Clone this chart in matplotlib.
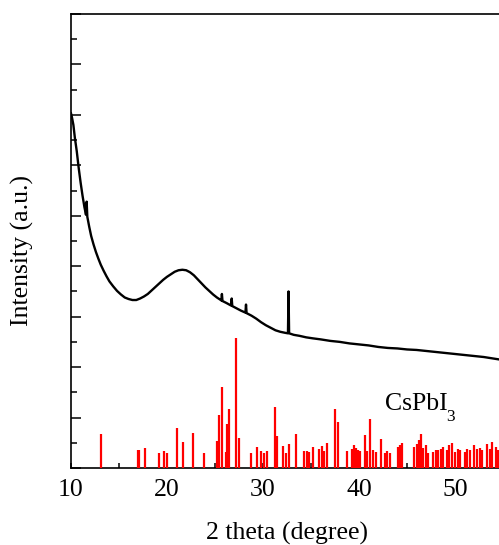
import matplotlib
matplotlib.use("Agg")
import matplotlib.pyplot as plt
from matplotlib.ticker import MultipleLocator, NullFormatter

plt.rcParams['font.family'] = ['Liberation Serif', 'DejaVu Serif']

# measured XRD curve (2theta, intensity a.u.)
two_theta = [10.00, 10.10, 10.25, 10.40, 10.60, 10.80, 11.00, 11.20, 11.40, 11.56,
             11.63, 11.70, 11.90, 12.10, 12.35, 12.60, 12.85, 13.10, 13.40, 13.70,
             14.00, 14.40, 14.80, 15.20, 15.60, 16.00, 16.40, 16.80, 17.20, 17.60,
             18.00, 18.40, 18.80, 19.20, 19.60, 20.00, 20.40, 20.80, 21.20, 21.60,
             22.00, 22.40, 22.80, 23.20, 23.60, 24.00, 24.40, 24.80, 25.20, 25.60,
             25.66, 25.72, 25.78, 26.20, 26.68, 26.74, 26.80, 27.20, 27.70, 28.17,
             28.23, 28.29, 28.80, 29.30, 29.80, 30.30, 30.80, 31.30, 31.80, 32.30,
             32.60, 32.66, 32.72, 33.20, 33.80, 34.50, 35.20, 36.00, 37.00, 38.00,
             39.00, 40.00, 41.00, 42.00, 43.00, 44.00, 45.00, 46.00, 47.00, 48.00,
             49.00, 50.00, 51.00, 52.00, 53.00, 54.00, 55.00]
intensity = [7.03, 6.95, 6.80, 6.55, 6.28, 5.95, 5.66, 5.40, 5.17, 5.02,
             5.28, 4.98, 4.78, 4.60, 4.43, 4.28, 4.15, 4.03, 3.91, 3.80,
             3.70, 3.60, 3.51, 3.44, 3.38, 3.35, 3.33, 3.33, 3.36, 3.40,
             3.45, 3.52, 3.59, 3.66, 3.73, 3.79, 3.84, 3.89, 3.92, 3.93,
             3.92, 3.88, 3.82, 3.74, 3.66, 3.58, 3.51, 3.44, 3.38, 3.33,
             3.32, 3.45, 3.31, 3.27, 3.22, 3.36, 3.21, 3.17, 3.12, 3.08,
             3.24, 3.07, 3.02, 2.96, 2.89, 2.83, 2.78, 2.73, 2.70, 2.68,
             2.67, 3.50, 2.67, 2.64, 2.62, 2.59, 2.57, 2.55, 2.52, 2.50,
             2.47, 2.45, 2.43, 2.40, 2.38, 2.37, 2.35, 2.34, 2.32, 2.30,
             2.28, 2.26, 2.24, 2.22, 2.20, 2.17, 2.14]

# reference pattern CsPbI3 (positions, relative heights)
ref_pos = [13.09, 16.95, 17.10, 17.70, 19.17, 19.72, 19.97, 21.00, 21.70, 22.67,
           23.90, 25.17, 25.40, 25.70, 26.10, 26.30, 26.50, 27.15, 27.50, 28.70,
           29.40, 29.80, 30.14, 30.40, 31.30, 31.50, 32.10, 32.36, 32.70, 33.40,
           34.30, 34.55, 34.80, 35.24, 35.83, 36.10, 36.40, 36.63, 37.50, 37.78,
           38.80, 39.30, 39.48, 39.70, 39.93, 40.10, 40.60, 40.83, 41.10, 41.50,
           41.74, 42.26, 42.70, 42.95, 43.23, 44.10, 44.27, 44.50, 45.76, 46.00,
           46.28, 46.46, 46.70, 46.94, 47.22, 47.74, 48.00, 48.26, 48.50, 48.80,
           49.13, 49.40, 49.66, 50.00, 50.28, 50.50, 51.04, 51.28, 51.56, 52.00,
           52.32, 52.60, 52.84, 53.30, 53.65, 53.90, 54.27, 54.50]
ref_height = [0.67, 0.36, 0.36, 0.40, 0.30, 0.34, 0.30, 0.80, 0.51, 0.69,
              0.29, 0.53, 1.05, 1.61, 0.31, 0.87, 1.17, 2.57, 0.60, 0.29,
              0.41, 0.34, 0.29, 0.34, 1.21, 0.63, 0.44, 0.30, 0.48, 0.67,
              0.34, 0.34, 0.32, 0.41, 0.38, 0.43, 0.33, 0.50, 1.16, 0.92,
              0.34, 0.38, 0.46, 0.40, 0.35, 0.33, 0.65, 0.33, 0.97, 0.36,
              0.32, 0.57, 0.30, 0.34, 0.29, 0.41, 0.46, 0.50, 0.41, 0.48,
              0.56, 0.67, 0.40, 0.46, 0.30, 0.32, 0.35, 0.36, 0.38, 0.41,
              0.36, 0.46, 0.50, 0.32, 0.38, 0.35, 0.32, 0.37, 0.35, 0.46,
              0.38, 0.40, 0.35, 0.47, 0.38, 0.52, 0.41, 0.35]

x_ticks = [10, 20, 30, 40, 50]

fig = plt.figure(figsize=(4.99, 5.45), dpi=100)
ax = fig.add_axes([71/499, 77/545, 432/499, 454/545])

ax.plot(two_theta, intensity, color='black', lw=1.7, zorder=4,
        solid_joinstyle='round')
ax.vlines(ref_pos, 0, ref_height, colors='#ff0000', lw=1.6, zorder=3)

ax.set_xlim(10, 55)
ax.set_ylim(0, 9)
ax.set_xticks(x_ticks)
ax.xaxis.set_minor_locator(MultipleLocator(5))
ax.yaxis.set_major_locator(MultipleLocator(1))
ax.yaxis.set_minor_locator(MultipleLocator(0.5))
ax.yaxis.set_major_formatter(NullFormatter())

ax.tick_params(axis='x', which='both', direction='in', length=3.3, width=1.1,
               labelsize=18.5, pad=8.2)
ax.tick_params(axis='y', which='major', direction='in', length=7.2, width=1.1)
ax.tick_params(axis='y', which='minor', direction='in', length=4.0, width=1.1)
for s in ax.spines.values():
    s.set_linewidth(1.2)

ax.set_xlabel('2 theta (degree)', fontsize=18.5, labelpad=15)
ax.set_ylabel('Intensity (a.u.)', fontsize=18.5)
ax.yaxis.set_label_coords(-0.085, 0.48)

ax.text(42.7, 1.15, 'CsPbI', fontsize=18.5, ha='left', va='baseline')
ax.text(49.1, 0.94, '3', fontsize=12.5, ha='left', va='baseline')

fig.savefig('out.png', dpi=100)
